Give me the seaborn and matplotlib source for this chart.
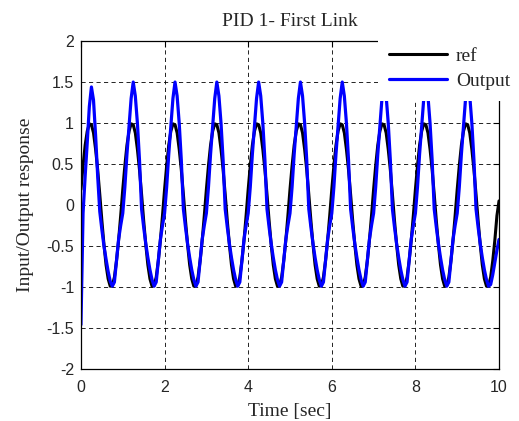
import numpy as np
import pandas as pd
import matplotlib
matplotlib.use('Agg')
import matplotlib.pyplot as plt
import seaborn as sns

# time axis, 0.05 s steps
time = np.round(np.arange(0, 10.001, 0.05), 2)

# reference signal (one row = one second)
ref = [
    0.19, 0.48, 0.73, 0.90, 0.99, 0.98, 0.88, 0.68, 0.43, 0.13, -0.19, -0.48, -0.73, -0.90, -0.99, -0.98, -0.88, -0.68, -0.43, -0.13,
    0.19, 0.48, 0.73, 0.90, 0.99, 0.98, 0.88, 0.68, 0.43, 0.13, -0.19, -0.48, -0.73, -0.90, -0.99, -0.98, -0.88, -0.68, -0.43, -0.13,
    0.19, 0.48, 0.73, 0.90, 0.99, 0.98, 0.88, 0.68, 0.43, 0.13, -0.19, -0.48, -0.73, -0.90, -0.99, -0.98, -0.88, -0.68, -0.43, -0.13,
    0.19, 0.48, 0.73, 0.90, 0.99, 0.98, 0.88, 0.68, 0.43, 0.13, -0.19, -0.48, -0.73, -0.90, -0.99, -0.98, -0.88, -0.68, -0.43, -0.13,
    0.19, 0.48, 0.73, 0.90, 0.99, 0.98, 0.88, 0.68, 0.43, 0.13, -0.19, -0.48, -0.73, -0.90, -0.99, -0.98, -0.88, -0.68, -0.43, -0.13,
    0.19, 0.48, 0.73, 0.90, 0.99, 0.98, 0.88, 0.68, 0.43, 0.13, -0.19, -0.48, -0.73, -0.90, -0.99, -0.98, -0.88, -0.68, -0.43, -0.13,
    0.19, 0.48, 0.73, 0.90, 0.99, 0.98, 0.88, 0.68, 0.43, 0.13, -0.19, -0.48, -0.73, -0.90, -0.99, -0.98, -0.88, -0.68, -0.43, -0.13,
    0.19, 0.48, 0.73, 0.90, 0.99, 0.98, 0.88, 0.68, 0.43, 0.13, -0.19, -0.48, -0.73, -0.90, -0.99, -0.98, -0.88, -0.68, -0.43, -0.13,
    0.19, 0.48, 0.73, 0.90, 0.99, 0.98, 0.88, 0.68, 0.43, 0.13, -0.19, -0.48, -0.73, -0.90, -0.99, -0.98, -0.88, -0.68, -0.43, -0.13,
    0.19, 0.48, 0.73, 0.90, 0.99, 0.98, 0.88, 0.68, 0.43, 0.13, -0.19, -0.48, -0.73, -0.90, -0.99, -0.98, -0.88, -0.68, -0.43, -0.13,
    0.05,
]

# system output
output = [
    -1.46, -0.10, 0.35, 0.76, 1.20, 1.44, 1.28, 0.85, 0.35, -0.08, -0.30, -0.50, -0.66, -0.81, -0.93, -0.99, -0.94, -0.68, -0.42, -0.25,
    -0.10, 0.22, 0.62, 0.96, 1.30, 1.50, 1.33, 1.00, 0.55, -0.05, -0.27, -0.47, -0.64, -0.79, -0.91, -0.99, -0.94, -0.68, -0.42, -0.25,
    -0.10, 0.22, 0.62, 0.96, 1.30, 1.50, 1.33, 1.00, 0.55, -0.05, -0.27, -0.47, -0.64, -0.79, -0.91, -0.99, -0.94, -0.68, -0.42, -0.25,
    -0.10, 0.22, 0.62, 0.96, 1.30, 1.50, 1.33, 1.00, 0.55, -0.05, -0.27, -0.47, -0.64, -0.79, -0.91, -0.99, -0.94, -0.68, -0.42, -0.25,
    -0.10, 0.22, 0.62, 0.96, 1.30, 1.50, 1.33, 1.00, 0.55, -0.05, -0.27, -0.47, -0.64, -0.79, -0.91, -0.99, -0.94, -0.68, -0.42, -0.25,
    -0.10, 0.22, 0.62, 0.96, 1.30, 1.50, 1.33, 1.00, 0.55, -0.05, -0.27, -0.47, -0.64, -0.79, -0.91, -0.99, -0.94, -0.68, -0.42, -0.25,
    -0.10, 0.22, 0.62, 0.96, 1.30, 1.50, 1.33, 1.00, 0.55, -0.05, -0.27, -0.47, -0.64, -0.79, -0.91, -0.99, -0.94, -0.68, -0.42, -0.25,
    -0.10, 0.22, 0.62, 0.96, 1.30, 1.50, 1.33, 1.00, 0.55, -0.05, -0.27, -0.47, -0.64, -0.79, -0.91, -0.99, -0.94, -0.68, -0.42, -0.25,
    -0.10, 0.22, 0.62, 0.96, 1.30, 1.50, 1.33, 1.00, 0.55, -0.05, -0.27, -0.47, -0.64, -0.79, -0.91, -0.99, -0.94, -0.68, -0.42, -0.25,
    -0.10, 0.22, 0.62, 0.96, 1.30, 1.50, 1.33, 1.00, 0.55, -0.05, -0.27, -0.47, -0.64, -0.79, -0.91, -0.99, -0.97, -0.85, -0.70, -0.55,
    -0.42,
]

xticks = [0, 2, 4, 6, 8, 10]
xtick_labels = ['0', '2', '4', '6', '8', '10']
yticks = [-2, -1.5, -1, -0.5, 0, 0.5, 1, 1.5, 2]
ytick_labels = ['-2', '-1.5', '-1', '-0.5', '0', '0.5', '1', '1.5', '2']

df = pd.DataFrame({'t': time, 'ref': ref, 'out': output})

sns.set_style('white')
serif = ['Liberation Serif', 'DejaVu Serif']
sans = ['Liberation Sans', 'DejaVu Sans']

fig = plt.figure(figsize=(5.19, 4.21), dpi=100)
ax = fig.add_axes([0.156, 0.1235, 0.8055, 0.779])

sns.lineplot(data=df, x='t', y='ref', color='black', linewidth=2.2, label='ref', ax=ax)
sns.lineplot(data=df, x='t', y='out', color='#0000ff', linewidth=2.3, label='Output', ax=ax)

ax.set_xlim(0, 10)
ax.set_ylim(-2, 2)
ax.set_xticks(xticks)
ax.set_xticklabels(xtick_labels, family=sans, fontsize=11.5)
ax.set_yticks(yticks)
ax.set_yticklabels(ytick_labels, family=sans, fontsize=11.5)
ax.tick_params(axis='x', pad=8)
ax.tick_params(axis='y', pad=5)
ax.tick_params(direction='in', top=True, right=True, length=4, width=0.8, color='black')
ax.grid(True, color='black', linestyle=(0, (5, 4)), linewidth=0.6)

for s in ax.spines.values():
    s.set_color('black')
    s.set_linewidth(0.9)

ax.set_title('PID 1- First Link', family=serif, fontsize=14, pad=11)
ax.set_xlabel('Time [sec]', family=serif, fontsize=14, labelpad=6)
ax.set_ylabel('Input/Output response', family=serif, fontsize=14, labelpad=9)

leg = ax.legend(loc='upper left', bbox_to_anchor=(0.7105, 1.014), borderaxespad=0,
                frameon=True, facecolor='white', edgecolor='white', framealpha=1,
                fancybox=False, prop={'family': serif, 'size': 14}, handlelength=3.0,
                borderpad=0.55, labelspacing=0.4, handletextpad=0.45)
leg.get_frame().set_linewidth(0)
leg.set_zorder(10)

fig.savefig('out.png', dpi=100)
